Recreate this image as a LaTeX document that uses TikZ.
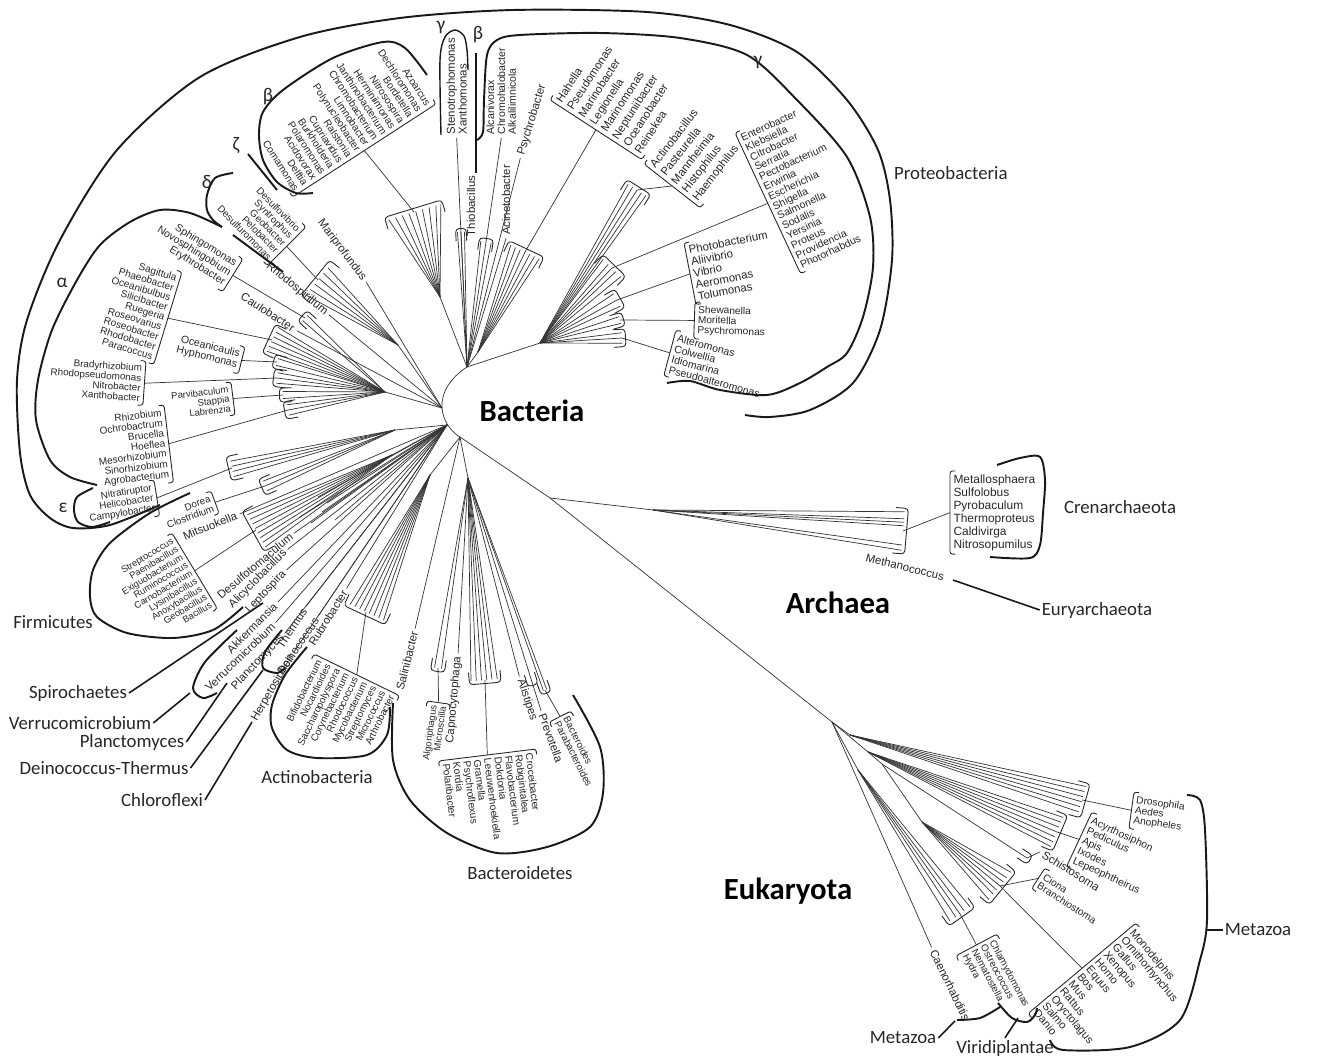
\documentclass[tikz,border=0pt]{standalone}
\usepackage{fontspec}
\setmainfont{Carlito}
\newfontfamily\arialfont{Liberation Sans}
\usepackage{tikz}
\usetikzlibrary{calc}

\newcommand\gfont[2]{\arialfont\fontsize{#1}{#2}\selectfont}
\newcommand\fancup[4]{%
  \foreach \o in {#4} \draw[branch] (#1) -- ($(#2)!\o pt!90:(#1)$);
  \coordinate (fcB) at ($(#2)!5pt!(#1)$);
  \coordinate (fcF) at ($(#2)!-2pt!(#1)$);
  \draw[brk, rounded corners=2pt] ($(fcB)!#3!90:(#1)$) -- ($(fcF)!#3!90:(#1)$) -- ($(fcF)!-#3!90:(#1)$) -- ($(fcB)!-#3!90:(#1)$);
}
\newcommand\lbrk[1]{\draw[brk, rounded corners=1.5pt] ($(#1.north west)!3pt!(#1.north east)$) -- (#1.north west) -- (#1.south west) -- ($(#1.south west)!3pt!(#1.south east)$);}
\newcommand\rbrk[1]{\draw[brk, rounded corners=1.5pt] ($(#1.north east)!3pt!(#1.north west)$) -- (#1.north east) -- (#1.south east) -- ($(#1.south east)!3pt!(#1.south west)$);}

\tikzset{
  branch/.style={line width=0.4pt, draw=black!80},
  brk/.style={line width=0.5pt, draw=black!85},
  outline/.style={line width=1.1pt, draw=black!90},
  genus/.style={inner sep=0pt, outer sep=2pt, text=black!85},
  clade/.style={font=\fontsize{10.7}{12}\selectfont, inner sep=1pt, text=black!85},
  domainlbl/.style={font=\bfseries\fontsize{17.5}{20}\selectfont},
  greek/.style={font=\fontsize{11}{12}\selectfont, inner sep=0pt, text=black!85},
}

\begin{document}
\begin{tikzpicture}[x=0.02cm, y=-0.02cm]
        \useasboundingbox (0,0) rectangle (1322,1060);

        \node(betaL) [genus, font=\gfont{5.8}{5.95}, rotate=-57, anchor=north east, align=right] at (436,104) {Azoarcus\\Dechloromonas\\Bordetella\\Nitrosospira\\Herminiimonas\\Janthinobacterium\\Chromobacterium\\Limnobacter\\Polynucleobacter\\Ralstonia\\Cupriavidus\\Burkholderia\\Polaromonas\\Acidovorax\\Delftia\\Comamonas};
        \node(deltaL) [genus, font=\gfont{5.6}{5.75}, rotate=-45, anchor=north east, align=right] at (306,227) {Desulfovibrio\\Syntrophus\\Geobacter\\Pelobacter\\Desulfuromonas};
        \node(sphingoL) [genus, font=\gfont{6}{6.2}, rotate=-32, anchor=north east, align=right] at (243,259) {Sphingomonas\\Novosphingobium\\Erythrobacter};
        \node(roseoL) [genus, font=\gfont{5.7}{5.85}, rotate=-17, anchor=north east, align=right] at (182,272) {Sagittula\\Phaeobacter\\Oceanibulbus\\Silicibacter\\Ruegeria\\Roseovarius\\Roseobacter\\Rhodobacter\\Paracoccus};
        \node(oceanL) [genus, font=\gfont{6}{6.2}, rotate=-14, anchor=north east, align=right] at (245,347) {Oceanicaulis\\Hyphomonas};
        \node(bradyL) [genus, font=\gfont{5.6}{5.75}, rotate=-4, anchor=north east, align=right] at (146,361) {Bradyrhizobium\\Rhodopseudomonas\\Nitrobacter\\Xanthobacter};
        \node(parviL) [genus, font=\gfont{5.4}{5.5}, rotate=7, anchor=north east, align=right] at (231,382) {Parvibaculum\\Stappia\\Labrenzia};
        \node(rhizoL) [genus, font=\gfont{5.7}{5.85}, rotate=7, anchor=north east, align=right] at (164,405) {Rhizobium\\Ochrobactrum\\Brucella\\Hoeflea\\Mesorhizobium\\Sinorhizobium\\Agrobacterium};
        \node(epsL) [genus, font=\gfont{5.6}{5.75}, rotate=9, anchor=north east, align=right] at (154,480) {Nitratiruptor\\Helicobacter\\Campylobacter};
        \node(doreaL) [genus, font=\gfont{5.6}{5.75}, rotate=20, anchor=north east, align=right] at (211,491) {Dorea\\Clostridium};
        \node(firmL) [genus, font=\gfont{5.3}{5.3}, rotate=31, anchor=north east, align=right] at (172,533) {Streptococcus\\Paenibacillus\\Exiguobacterium\\Ruminococcus\\Carnobacterium\\Lysinibacillus\\Anoxybacillus\\Geobacillus\\Bacillus};
        \node(actinoL) [genus, font=\gfont{5.6}{5.75}, rotate=64, anchor=north east, align=right] at (314,654) {Bifidobacterium\\Nocardioides\\Saccharopolyspora\\Corynebacterium\\Rhodococcus\\Mycobacterium\\Streptomyces\\Micrococcus\\Arthrobacter};
        \node(algoL) [genus, font=\gfont{5.4}{5.4}, rotate=82, anchor=north east, align=right] at (427,701) {Algoriphagus\\Microscilla};
        \node(flavoL) [genus, font=\gfont{5.8}{5.95}, rotate=-83, anchor=north west, align=left] at (536,749) {Croceibacter\\Robiginitalea\\Flavobacterium\\Dokdonia\\Leeuwenhoekiella\\Gramella\\Psychroflexus\\Kordia\\Polaribacter};
        \node(bactL) [genus, font=\gfont{5.6}{5.75}, rotate=-63, anchor=north west, align=left] at (571,711) {Bacteroides\\Parabacteroides};
        \node(hahellaL) [genus, font=\gfont{6.5}{7.65}, rotate=57, anchor=north west, align=left] at (550,100) {Hahella\\Pseudomonas\\Marinobacter\\Legionella\\Marinomonas\\Neptuniibacter\\Oceanobacter\\Reinekea};
        \node(actinobacL) [genus, font=\gfont{6.5}{7.65}, rotate=52, anchor=north west, align=left] at (644,164) {Actinobacillus\\Pasteurella\\Mannheimia\\Histophilus\\Haemophilus};
        \node(enteroL) [genus, font=\gfont{6}{6.15}, rotate=25, anchor=north west, align=left] at (735,133) {Enterobacter\\Klebsiella\\Citrobacter\\Serratia\\Pectobacterium\\Erwinia\\Escherichia\\Shigella\\Salmonella\\Sodalis\\Yersinia\\Proteus\\Providencia\\Photorhabdus};
        \node(photoL) [genus, font=\gfont{6.5}{6.75}, rotate=11, anchor=north west, align=left] at (684,243) {Photobacterium\\Aliivibrio\\Vibrio\\Aeromonas\\Tolumonas};
        \node(shewL) [genus, font=\gfont{5.8}{5.8}, rotate=-2, anchor=north west, align=left] at (695,302) {Shewanella\\Moritella\\Psychromonas};
        \node(alteroL) [genus, font=\gfont{6}{6.2}, rotate=-15, anchor=north west, align=left] at (676,330) {Alteromonas\\Colwellia\\Idiomarina\\Pseudoalteromonas};
        \node(stenoL) [genus, font=\gfont{6.5}{6.8}, rotate=90, anchor=north west, align=left] at (443,138) {Stenotrophomonas\\Xanthomonas};
        \node(alcaL) [genus, font=\gfont{6}{6.2}, rotate=90, anchor=north west, align=left] at (483,138) {Alcanivorax\\Chromohalobacter\\Alkalilimnicola};
        \node(crenL) [genus, font=\gfont{6.8}{7.4}, anchor=north west, align=left] at (950,471) {Metallosphaera\\Sulfolobus\\Pyrobaculum\\Thermoproteus\\Caldivirga\\Nitrosopumilus};
        \node(chlamyL) [genus, font=\gfont{5.6}{5.75}, rotate=-62, anchor=north west, align=left] at (997,934) {Chlamydomonas\\Ostreococcus\\Nematostella\\Hydra};
        \node(monoL) [genus, font=\gfont{6.3}{6.5}, rotate=-50, anchor=north west, align=left] at (1136,923) {Monodelphis\\Ornithorhynchus\\Gallus\\Xenopus\\Homo\\Equus\\Bos\\Mus\\Rattus\\Oryctolagus\\Salmo\\Danio};
        \node(cionaL) [genus, font=\gfont{5.8}{5.8}, rotate=-33, anchor=north west, align=left] at (1045,868) {Ciona\\Branchiostoma};
        \node(acyrL) [genus, font=\gfont{6}{6.2}, rotate=-25, anchor=north west, align=left] at (1092,812) {Acyrthosiphon\\Pediculus\\Apis\\Ixodes\\Lepeophtheirus};
        \node(drosoL) [genus, font=\gfont{5.8}{5.8}, rotate=-8, anchor=north west, align=left] at (1134,792) {Drosophila\\Aedes\\Anopheles};

        \foreach \n in {betaL,deltaL,sphingoL,roseoL,oceanL,bradyL,parviL,rhizoL,epsL,doreaL,firmL,actinoL,algoL} {\rbrk{\n}}
        \foreach \n in {flavoL,bactL,hahellaL,actinobacL,enteroL,photoL,shewL,alteroL,crenL,chlamyL,monoL,cionaL,acyrL,drosoL} {\lbrk{\n}}

        \node(thiob) [genus, font=\gfont{6.5}{7}, rotate=90] at (471,206) {Thiobacillus};
        \node(acineto) [genus, font=\gfont{6.5}{7}, rotate=90] at (506,200) {Acinetobacter};
        \node(psychrob) [genus, font=\gfont{6.5}{7}, rotate=73] at (532,120) {Psychrobacter};
        \node(mariprof) [genus, font=\gfont{6.5}{7}, rotate=-53] at (342,250) {Mariprofundus};
        \node(rhodospir) [genus, font=\gfont{6.5}{7}, rotate=-39] at (297,289) {Rhodospirillum};
        \node(caulob) [genus, font=\gfont{6.5}{7}, rotate=-33] at (268,312) {Caulobacter};
        \node(mitsuok) [genus, font=\gfont{6.5}{7}, rotate=22] at (210,526) {Mitsuokella};
        \node(desulfot) [genus, font=\gfont{6.5}{7}, rotate=40] at (255,566) {Desulfotomaculum};
        \node(alicyclo) [genus, font=\gfont{6.5}{7}, rotate=45] at (258,579) {Alicyclobacillus};
        \node(leptosp) [genus, font=\gfont{6.5}{7}, rotate=47] at (266,592) {Leptospira};
        \node(akkerm) [genus, font=\gfont{6.5}{7}, rotate=45] at (252,628) {Akkermansia};
        \node(verruco) [genus, font=\gfont{6.5}{7}, rotate=44] at (240,657) {Verrucomicrobium};
        \node(plancto) [genus, font=\gfont{6.5}{7}, rotate=47] at (258,662) {Planctomyces};
        \node(thermus) [genus, font=\gfont{6.5}{7}, rotate=57] at (292,628) {Thermus};
        \node(deinoc) [genus, font=\gfont{6.5}{7}, rotate=56] at (298,646) {Deinococcus};
        \node(herpeto) [genus, font=\gfont{6.5}{7}, rotate=60] at (273,688) {Herpetosiphon};
        \node(rubrob) [genus, font=\gfont{6.5}{7}, rotate=58] at (328,618) {Rubrobacter};
        \node(salinib) [genus, font=\gfont{6.5}{7}, rotate=76] at (407,661) {Salinibacter};
        \node(capno) [genus, font=\gfont{6.5}{7}, rotate=85] at (454,700) {Capnocytophaga};
        \node(alistip) [genus, font=\gfont{6.5}{7}, rotate=-72] at (527,700) {Alistipes};
        \node(prevot) [genus, font=\gfont{6.5}{7}, rotate=-70] at (551,738) {Prevotella};
        \node(methano) [genus, font=\gfont{6.5}{7}, rotate=-14] at (905,567) {Methanococcus};
        \node(schisto) [genus, font=\gfont{6.5}{7}, rotate=-32] at (1071,871) {Schistosoma};
        \node(caeno) [genus, font=\gfont{6.5}{7}, rotate=-64] at (950,985) {Caenorhabditis};

        \coordinate (rT) at (467,367);
        \coordinate (rL) at (442,408);
        \coordinate (rLB) at (447,425);
        \coordinate (rB) at (460,437);
        \draw[branch] (rT) .. controls (450,378) and (441,393) .. (rL) .. controls (443,420) and (450,431) .. (rB);

        \coordinate (hb) at (440,297);
        \coordinate (cbeta) at (414,212);
        \draw[branch] (rT) -- (hb);
        \fancup{hb}{cbeta}{17pt}{-15,-11,-7,-3,1,5,9,13,16}
        \draw[branch] (cbeta) -- (betaL.east);

        \coordinate (cthio) at (461,232);
        \fancup{rT}{cthio}{3pt}{-2,0,2}
        \draw[branch] (rT) -- (stenoL.west);
        \coordinate (calca) at (486,242);
        \fancup{rT}{calca}{4pt}{-3,0,3}
        \draw[branch] (calca) -- (alcaL.west);
        \draw[branch] (rT) -- (acineto.west);
        \draw[branch] (rT) -- (psychrob.west);

        \coordinate (hh) at (478,352);
        \coordinate (chah) at (525,252);
        \draw[branch] (rT) -- (hh);
        \fancup{hh}{chah}{11pt}{-9,-6,-3,0,3,6,9}
        \draw[branch] (chah) -- (hahellaL.west);

        \coordinate (hg) at (540,343);
        \draw[branch] (rT) -- (hg);
        \coordinate (cab) at (637,190);
        \fancup{hg}{cab}{8pt}{-6,-3,0,3,6}
        \draw[branch] (cab) -- (actinobacL.west);
        \coordinate (cent) at (612,268);
        \fancup{hg}{cent}{9pt}{-7,-3,0,3,7}
        \draw[branch] (cent) -- (enteroL.west);
        \coordinate (cpho) at (617,300);
        \fancup{hg}{cpho}{6pt}{-4,0,4}
        \draw[branch] (cpho) -- (photoL.west);
        \coordinate (cshe) at (620,320);
        \fancup{hg}{cshe}{4pt}{-2,2}
        \draw[branch] (cshe) -- (shewL.west);
        \coordinate (calt) at (622,338);
        \fancup{hg}{calt}{5pt}{-3,0,3}
        \draw[branch] (calt) -- (alteroL.west);

        \draw[branch] (mariprof.east) -- (rL);
        \coordinate (hd) at (398,345);
        \coordinate (cdel) at (318,280);
        \draw[branch] (rL) -- (hd);
        \fancup{hd}{cdel}{13pt}{-11,-7,-3,1,5,9}
        \draw[branch] (deltaL.east) -- (cdel);
        \draw[branch] (rhodospir.east) -- (rL);
        \draw[branch] (caulob.east) -- (rL);

        \coordinate (hal) at (385,392);
        \draw[branch] (rL) -- (hal);
        \coordinate (ccau) at (305,318);
        \fancup{hal}{ccau}{4pt}{-2,2}
        \draw[branch] (sphingoL.east) -- (ccau);
        \coordinate (cros) at (272,340);
        \fancup{hal}{cros}{9pt}{-7,-4,-1,2,5,8}
        \draw[branch] (roseoL.east) -- (cros);
        \coordinate (coce) at (277,362);
        \fancup{hal}{coce}{4pt}{-2,2}
        \draw[branch] (oceanL.east) -- (coce);
        \coordinate (cbra) at (277,378);
        \fancup{hal}{cbra}{5pt}{-3,0,3}
        \draw[branch] (bradyL.east) -- (cbra);
        \coordinate (cpar) at (283,395);
        \fancup{hal}{cpar}{4pt}{-2,2}
        \draw[branch] (parviL.east) -- (cpar);
        \coordinate (crhi) at (288,410);
        \fancup{hal}{crhi}{5pt}{-3,0,3}
        \draw[branch] (rhizoL.east) -- (crhi);

        \coordinate (hep) at (395,430);
        \draw[branch] (rLB) -- (hep);
        \coordinate (ceps) at (232,468);
        \fancup{hep}{ceps}{7pt}{-5,-2,1,4}
        \draw[branch] (epsL.east) -- (ceps);
        \coordinate (cdor) at (265,486);
        \fancup{hep}{cdor}{5pt}{-3,0,3}
        \draw[branch] (doreaL.east) -- (cdor);
        \draw[branch] (mitsuok.east) -- (rLB);
        \foreach \p in {(318,497),(327,503),(300,517),(311,523),(322,512),(335,520)}
            \draw[branch] (rLB) -- \p;

        \coordinate (hfi) at (392,455);
        \coordinate (cfir) at (256,530);
        \draw[branch] (rLB) -- (hfi);
        \fancup{hfi}{cfir}{13pt}{-11,-8,-5,-2,1,4,7,10}
        \draw[branch] (firmL.east) -- (cfir);
        \foreach \n in {desulfot,alicyclo,leptosp,akkerm,verruco,plancto,thermus,deinoc,herpeto,rubrob}
            \draw[branch] (\n.east) -- (rLB);

        \coordinate (hac) at (430,475);
        \coordinate (cact) at (366,612);
        \draw[branch] (rB) -- (hac);
        \fancup{hac}{cact}{13pt}{-11,-8,-5,-2,1,4,7,10}
        \draw[branch] (cact) -- (actinoL.east);
        \draw[branch] (salinib.east) -- (rB);

        \coordinate (hbd) at (468,478);
        \draw[branch] (rB) -- (hbd);
        \coordinate (calg) at (438,668);
        \fancup{hbd}{calg}{4pt}{-2,2}
        \draw[branch] (calg) -- (algoL.east);
        \draw[branch] (capno.east) -- (hbd);
        \coordinate (cfla) at (485,680);
        \fancup{hbd}{cfla}{9pt}{-7,-4,-1,2,5,8}
        \draw[branch] (cfla) -- (flavoL.west);
        \draw[branch] (alistip.west) -- (hbd);
        \coordinate (cpre) at (532,682);
        \fancup{hbd}{cpre}{3pt}{0}
        \draw[branch] (cpre) -- (prevot.west);
        \coordinate (cbac) at (545,690);
        \fancup{hbd}{cbac}{3pt}{-1,1}
        \draw[branch] (cbac) -- (bactL.west);

        \coordinate (A0) at (550,498);
        \coordinate (A1) at (653,510);
        \coordinate (E0) at (832,722);
        \draw[branch] (rB) -- (A0) -- (E0);
        \draw[branch] (A0) -- (A1);
        \coordinate (carc) at (903,531);
        \fancup{A1}{carc}{13pt}{-11,-7,-5,-3,8,11}
        \draw[branch] (carc) -- (crenL.west);

        \coordinate (Ed) at (850,735);
        \coordinate (Ea) at (868,752);
        \coordinate (Es) at (882,764);
        \coordinate (Ec) at (922,822);
        \coordinate (Ech) at (858,770);
        \draw[branch] (E0) -- (Ed);
        \draw[branch] (E0) -- (Ea) -- (Es) -- (Ec);
        \draw[branch] (E0) -- (Ech);
        \coordinate (cdro) at (1082,800);
        \fancup{Ed}{cdro}{10pt}{-8,-5,-2,1,4,7}
        \draw[branch] (cdro) -- (drosoL.west);
        \coordinate (cacy) at (1057,832);
        \fancup{Ea}{cacy}{11pt}{-9,-6,-3,0,3,6,9}
        \draw[branch] (cacy) -- (acyrL.west);
        \coordinate (csch) at (1027,858);
        \fancup{Es}{csch}{3pt}{0}
        \draw[branch] (csch) -- (schisto.west);
        \coordinate (ccio) at (1000,886);
        \fancup{Ec}{ccio}{12pt}{-10,-6,-3,0,3,6,10}
        \draw[branch] (ccio) -- (cionaL.west);
        \draw[branch] (ccio) -- (monoL.west);
        \coordinate (cchl) at (960,914);
        \fancup{Ech}{cchl}{9pt}{-7,-3,0,3,7}
        \draw[branch] (cchl) -- (chlamyL.west);
        \draw[branch] (E0) -- (caeno.west);

        \draw[outline] plot[smooth] coordinates {(160,505) (110,525) (73,528) (50,518) (30,495) (20,453) (17,380) (27,320) (60,240) (117,150) (200,77) (300,37) (400,18) (513,10) (647,12) (730,25) (797,52) (847,100) (878,150) (890,200) (892,260) (880,330) (853,383) (810,410) (770,417) (745,415)};
        \draw[outline] plot[smooth] coordinates {(477,140) (483,132) (484,100) (487,55) (497,40) (520,35) (600,33) (680,38) (747,55) (797,100) (847,157) (870,217) (873,267) (863,317) (847,353) (827,367) (800,383) (767,395) (720,390) (690,381) (667,383)};
        \draw[outline] plot[smooth] coordinates {(427,75) (405,48) (383,42) (333,58) (283,90) (263,112) (259,135) (263,160) (277,182) (296,193) (313,193)};
        \draw[outline] (248,154) -- (277,190);
        \draw[outline] plot[smooth] coordinates {(233,173) (215,178) (207,195) (207,210) (213,220) (222,227)};
        \draw[outline] (233,235) -- (283,272);
        \draw[outline] plot[smooth] coordinates {(222,227) (190,213) (160,210) (130,222) (100,245) (77,280) (52,330) (38,380) (36,420) (50,460) (70,477) (97,485)};
        \draw[outline] plot[smooth] coordinates {(93,488) (77,497) (74,510) (78,522) (92,527) (110,522)};
        \draw[outline] plot[smooth] coordinates {(190,493) (150,513) (110,543) (93,570) (90,597) (97,617) (127,633) (173,638) (213,630) (243,607)};
        \draw[outline] plot[smooth] coordinates {(237,630) (205,662) (193,688) (203,698) (217,693)};
        \draw[outline] plot[smooth] coordinates {(282,630) (265,652) (263,668) (277,673) (285,668)};
        \draw[outline] plot[smooth] coordinates {(307,647) (285,675) (272,705) (272,728) (287,750) (317,758) (367,755) (387,735) (390,707)};
        \draw[outline] plot[smooth] coordinates {(393,703) (393,760) (410,800) (447,833) (497,853) (547,847) (590,827) (603,793) (600,747) (573,695)};
        \draw[outline] plot[smooth] coordinates {(997,465) (1020,458) (1040,457) (1045,480) (1043,513) (1040,545) (1030,558) (990,557)};
        \draw[outline, line width=0.8pt] plot[smooth] coordinates {(441,135) (440,60) (445,37) (455,30) (464,36) (467,50) (468,70)};
        \draw[outline] (476,53) -- (476,173);
        \draw[outline] plot[smooth] coordinates {(1187,795) (1200,800) (1205,830) (1207,920) (1200,960) (1180,1020) (1130,1047) (1063,1050) (1050,1040)};
        \draw[outline] plot[smooth] coordinates {(957,1020) (980,1018) (1000,1007)};
        \draw[outline] plot[smooth] coordinates {(998,1003) (1012,1018) (1027,1022) (1035,1015) (1037,1008)};

        \node(proteoL) [clade, anchor=west] at (892,173) {Proteobacteria};
        \node(firmiL) [clade] at (53,622) {Firmicutes};
        \node(spiroL) [clade] at (78,693) {Spirochaetes};
        \node(verrL) [clade] at (80,723) {Verrucomicrobium};
        \node(planL) [clade] at (132,742) {Planctomyces};
        \node(deinL) [clade] at (104,768) {Deinococcus-Thermus};
        \node(chloL) [clade] at (162,800) {Chloroflexi};
        \node(actiL) [clade] at (317,777) {Actinobacteria};
        \node(bacteL) [clade] at (520,873) {Bacteroidetes};
        \node(crenaL) [clade] at (1120,507) {Crenarchaeota};
        \node(euryL) [clade] at (1097,610) {Euryarchaeota};
        \node(metaRL) [clade] at (1258,930) {Metazoa};
        \node(metaLL) [clade] at (903,1038) {Metazoa};
        \node(viriL) [clade] at (1005,1048) {Viridiplantae};

        \node(bacteria) [domainlbl] at (532,411) {Bacteria};
        \node(archaea) [domainlbl] at (838,603) {Archaea};
        \node(eukaryota) [domainlbl] at (788,891) {Eukaryota};

        \node(gBeta) [greek] at (268,97) {β};
        \node(gGammaA) [greek] at (441,27) {γ};
        \node(gBetaB) [greek] at (478,35) {β};
        \node(gGammaB) [greek] at (758,62) {γ};
        \node(gZeta) [greek] at (236,145) {ζ};
        \node(gDelta) [greek] at (207,182) {δ};
        \node(gAlpha) [greek] at (62,283) {α};
        \node(gEps) [greek] at (63,508) {ε};

        \coordinate (spiroP) at (263,603);
        \coordinate (verrP) at (190,693);
        \coordinate (planP) at (227,683);
        \coordinate (deinP) at (263,670);
        \coordinate (chloP) at (252,722);
        \coordinate (euryP) at (953,580);
        \coordinate (metaLP) at (955,1021);
        \coordinate (viriP) at (1018,1018);
        \coordinate (metaRP) at (1207,930);
        \draw[outline, line width=0.9pt] (spiroL.east) -- (spiroP);
        \draw[outline, line width=0.9pt] (verrL.east) -- (verrP);
        \draw[outline, line width=0.9pt] (planL.east) -- (planP);
        \draw[outline, line width=0.9pt] (deinL.east) -- (deinP);
        \draw[outline, line width=0.9pt] (chloL.east) -- (chloP);
        \draw[outline, line width=0.9pt] (euryP) -- (euryL.west);
        \draw[outline, line width=0.9pt] (metaLL.east) -- (metaLP);
        \draw[outline, line width=0.9pt] (viriL.north) -- (viriP);
        \draw[outline, line width=0.9pt] (metaRP) -- (metaRL.west);
\end{tikzpicture}
\end{document}
